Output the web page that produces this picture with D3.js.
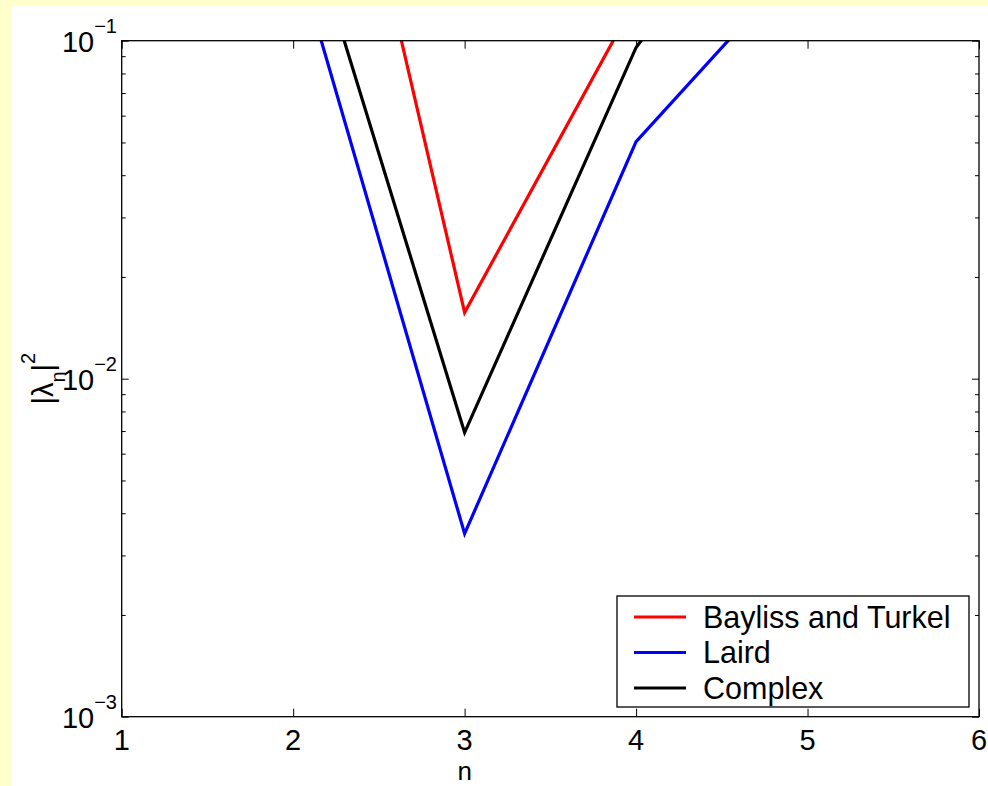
<!DOCTYPE html>
<html>
<head>
<meta charset="utf-8">
<script src="https://cdn.jsdelivr.net/npm/d3@7"></script>
<style>
  html, body { margin: 0; padding: 0; background: #ffffcc; }
  svg { display: block; font-family: "Liberation Sans", Arial, Helvetica, sans-serif; }
</style>
</head>
<body>
<div id="chart"></div>
<script>
// values
var nValues = [2, 3, 4, 5];
var nBayliss = [2, 3, 4];
var baylissTurkel = [2.38, 0.0157, 0.133];
var laird = [0.193, 0.00348, 0.0503, 0.181];
var complex = [0.31, 0.00693, 0.0955, 0.46];

var xTicks = [1, 2, 3, 4, 5, 6];
var yMajor = [1e-3, 1e-2, 1e-1];
var yExponents = ["\u22123", "\u22122", "\u22121"];
var legendNames = ["Bayliss and Turkel", "Laird", "Complex"];
var legendColors = ["#ff0000", "#0000ff", "#000000"];

var width = 988, height = 786;
var margin = { top: 40.7, right: 9, bottom: 69.3, left: 121.7 };

var svg = d3.select("#chart").append("svg")
    .attr("width", width)
    .attr("height", height);

// white figure area
svg.append("rect")
    .attr("x", 12).attr("y", 6)
    .attr("width", width - 12).attr("height", height - 6)
    .attr("fill", "#ffffff");

var x = d3.scaleLinear().domain([1, 6]).range([margin.left, width - margin.right]);
var y = d3.scaleLog().domain([1e-3, 1e-1]).range([height - margin.bottom, margin.top]);

var yMinor = [];
[1e-3, 1e-2].forEach(function(d) {
    for (var k = 2; k <= 9; k++) yMinor.push(d * k);
});

svg.append("defs").append("clipPath").attr("id", "plotclip")
    .append("rect")
    .attr("x", x(1)).attr("y", y(1e-1))
    .attr("width", x(6) - x(1)).attr("height", y(1e-3) - y(1e-1));

// ticks (inward)
function styleAxis(g) {
    g.select(".domain").remove();
    g.selectAll(".tick line").attr("stroke", "#000").attr("stroke-width", 1);
}

svg.append("g").attr("transform", "translate(0," + y(1e-3) + ")")
    .call(d3.axisBottom(x).tickValues(xTicks).tickSize(-8).tickFormat(""))
    .call(styleAxis);
svg.append("g").attr("transform", "translate(0," + y(1e-1) + ")")
    .call(d3.axisTop(x).tickValues(xTicks).tickSize(-8).tickFormat(""))
    .call(styleAxis);
svg.append("g").attr("transform", "translate(" + x(1) + ",0)")
    .call(d3.axisLeft(y).tickValues(yMajor).tickSize(-7).tickFormat(""))
    .call(styleAxis);
svg.append("g").attr("transform", "translate(" + x(1) + ",0)")
    .call(d3.axisLeft(y).tickValues(yMinor).tickSize(-4).tickFormat(""))
    .call(styleAxis);
svg.append("g").attr("transform", "translate(" + x(6) + ",0)")
    .call(d3.axisRight(y).tickValues(yMajor).tickSize(-7).tickFormat(""))
    .call(styleAxis);
svg.append("g").attr("transform", "translate(" + x(6) + ",0)")
    .call(d3.axisRight(y).tickValues(yMinor).tickSize(-4).tickFormat(""))
    .call(styleAxis);

// lines
var line = d3.line()
    .x(function(d) { return x(d[0]); })
    .y(function(d) { return y(d[1]); });

var series = [
    { pts: d3.zip(nBayliss, baylissTurkel), color: legendColors[0] },
    { pts: d3.zip(nValues, laird), color: legendColors[1] },
    { pts: d3.zip(nValues, complex), color: legendColors[2] }
];

svg.append("g").attr("clip-path", "url(#plotclip)")
    .selectAll("path").data(series).enter().append("path")
    .attr("d", function(d) { return line(d.pts); })
    .attr("fill", "none")
    .attr("stroke", function(d) { return d.color; })
    .attr("stroke-width", 3.2)
    .attr("stroke-linejoin", "miter");

// box
svg.append("rect")
    .attr("x", x(1)).attr("y", y(1e-1))
    .attr("width", x(6) - x(1)).attr("height", y(1e-3) - y(1e-1))
    .attr("fill", "none").attr("stroke", "#000").attr("stroke-width", 1.3);

// x tick labels
svg.selectAll(".xlab").data(xTicks).enter().append("text")
    .attr("class", "xlab")
    .attr("x", function(d) { return x(d); })
    .attr("y", y(1e-3) + 33)
    .attr("text-anchor", "middle")
    .attr("font-size", 29)
    .text(function(d) { return d; });

// y tick labels 10^k
var ylab = svg.selectAll(".ylab").data(yMajor).enter().append("text")
    .attr("class", "ylab")
    .attr("x", 117)
    .attr("y", function(d) { return y(d) + 11; })
    .attr("text-anchor", "end")
    .attr("font-size", 29);
ylab.append("tspan").text("10");
ylab.append("tspan")
    .attr("dy", -19)
    .attr("font-size", 20)
    .text(function(d, i) { return yExponents[i]; });

// axis titles
svg.append("text")
    .attr("x", x(3))
    .attr("y", 780)
    .attr("text-anchor", "middle")
    .attr("font-size", 26)
    .text("n");

var yt = svg.append("text")
    .attr("transform", "translate(53," + (y(1e-2)) + ") rotate(-90)")
    .attr("text-anchor", "middle")
    .attr("font-size", 29);
yt.append("tspan").text("|\u03bb");
yt.append("tspan").attr("dy", 12).attr("font-size", 20).text("n");
yt.append("tspan").attr("dy", -12).text("|");
yt.append("tspan").attr("dy", -18).attr("font-size", 20).text("2");

// legend
var legend = svg.append("g");
legend.append("rect")
    .attr("x", 617).attr("y", 596)
    .attr("width", 352).attr("height", 111)
    .attr("fill", "#fff").attr("stroke", "#000").attr("stroke-width", 1.3);

var item = legend.selectAll(".item").data(legendNames).enter().append("g")
    .attr("class", "item")
    .attr("transform", function(d, i) { return "translate(0," + (617 + i * 35.5) + ")"; });
item.append("line")
    .attr("x1", 634).attr("x2", 686)
    .attr("stroke", function(d, i) { return legendColors[i]; })
    .attr("stroke-width", 3.2);
item.append("text")
    .attr("x", 703).attr("y", 10.5)
    .attr("font-size", 30.5)
    .text(function(d) { return d; });
</script>
</body>
</html>
